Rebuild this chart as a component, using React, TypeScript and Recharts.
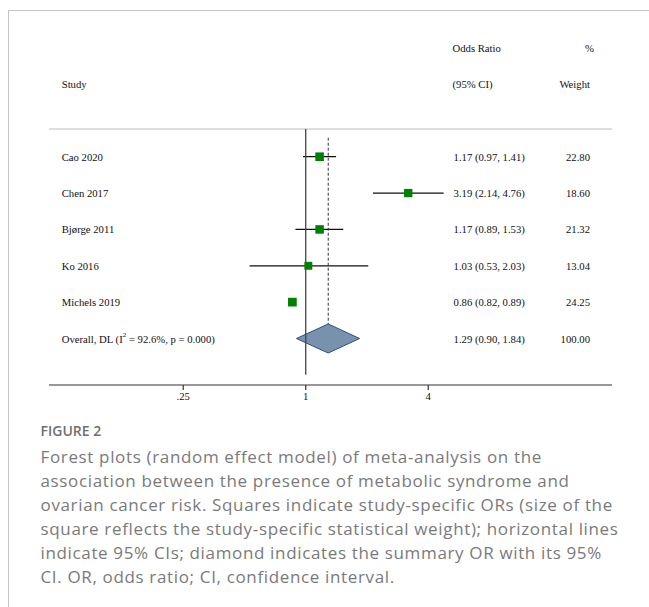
import React from 'react';
import {
  ComposedChart,
  Scatter,
  Area,
  XAxis,
  YAxis,
  ReferenceLine,
} from 'recharts';

// study rows (row index = vertical position, 1 = top study)
const studies = ['Cao 2020', 'Chen 2017', 'Bjørge 2011', 'Ko 2016', 'Michels 2019'];
const oddsRatio = [1.17, 3.19, 1.17, 1.03, 0.86];
const ciLow = [0.97, 2.14, 0.89, 0.53, 0.82];
const ciHigh = [1.41, 4.76, 1.53, 2.03, 0.89];
const weights = [22.8, 18.6, 21.32, 13.04, 24.25];

const overallLabel = 'Overall, DL';
const overallOR = 1.29;
const overallLow = 0.9;
const overallHigh = 1.84;
const overallWeight = 100.0;
const overallStats = 'p = 0.000';
const i2 = '92.6%';

const xTicks = [0.25, 1, 4];

const captionTitle = 'FIGURE 2';
const captionLines = [
  'Forest plots (random effect model) of meta-analysis on the',
  'association between the presence of metabolic syndrome and',
  'ovarian cancer risk. Squares indicate study-specific ORs (size of the',
  'square reflects the study-specific statistical weight); horizontal lines',
  'indicate 95% CIs; diamond indicates the summary OR with its 95%',
  'CI. OR, odds ratio; CI, confidence interval.',
];

// layout
const PLOT_LEFT = 49;
const PLOT_RIGHT = 612;
const PLOT_TOP = 129;
const PLOT_BOTTOM = 385;
const ROW_H = 36.36;
const Y_MIN = 1 - (156.7 - PLOT_TOP) / ROW_H;
const Y_MAX = Y_MIN + (PLOT_BOTTOM - PLOT_TOP) / ROW_H;
const X_MIN = Math.pow(2, (PLOT_LEFT - 305.7) / 61.25);
const X_MAX = 32;
const OVERALL_ROW = studies.length + 1;
const DIAMOND_HALF = 0.4;

const rowY = (row: number) => PLOT_TOP + (row - Y_MIN) * ROW_H;

const SERIF = '"Liberation Serif", "Times New Roman", serif';
const CAPTION_FONT = '"Open Sans", "Noto Sans", sans-serif';

const squareData = studies.map((s, i) => ({ x: oddsRatio[i], y: i + 1, w: weights[i] }));
const diamondData = [
  { x: overallLow, y: [OVERALL_ROW, OVERALL_ROW] },
  { x: overallOR, y: [OVERALL_ROW - DIAMOND_HALF, OVERALL_ROW + DIAMOND_HALF] },
  { x: overallHigh, y: [OVERALL_ROW, OVERALL_ROW] },
];

const fmtTick = (v: number) => (v < 1 ? String(v).replace(/^0/, '') : String(v));

function Square(props: any) {
  const { cx, cy, payload } = props;
  const side = 7 + payload.w * 0.07;
  return <rect x={cx - side / 2} y={cy - side / 2} width={side} height={side} fill="#008000" />;
}

function TextColumns() {
  const t = { fontFamily: SERIF, fontSize: 10.7, fill: '#111' } as const;
  return (
    <svg width={649} height={420} style={{ position: 'absolute', left: 0, top: 0, pointerEvents: 'none' }}>
      <text x={452.5} y={rowY(-2)} dominantBaseline="central" {...t}>Odds Ratio</text>
      <text x={594} y={rowY(-2)} dominantBaseline="central" textAnchor="end" {...t}>%</text>
      <text x={61.7} y={rowY(-1)} dominantBaseline="central" {...t}>Study</text>
      <text x={452.5} y={rowY(-1)} dominantBaseline="central" {...t}>(95% CI)</text>
      <text x={590} y={rowY(-1)} dominantBaseline="central" textAnchor="end" {...t}>Weight</text>
      {studies.map((s, i) => (
        <g key={s}>
          <text x={61.7} y={rowY(i + 1)} dominantBaseline="central" {...t}>{s}</text>
          <text x={453.6} y={rowY(i + 1)} dominantBaseline="central" {...t}>
            {`${oddsRatio[i].toFixed(2)} (${ciLow[i].toFixed(2)}, ${ciHigh[i].toFixed(2)})`}
          </text>
          <text x={590} y={rowY(i + 1)} dominantBaseline="central" textAnchor="end" {...t}>
            {weights[i].toFixed(2)}
          </text>
        </g>
      ))}
      <text x={61.7} y={rowY(OVERALL_ROW)} dominantBaseline="central" {...t}>
        {`${overallLabel} (I`}
        <tspan fontSize={7} dy={-4}>2</tspan>
        <tspan dy={4}>{` = ${i2}, ${overallStats})`}</tspan>
      </text>
      <text x={453.6} y={rowY(OVERALL_ROW)} dominantBaseline="central" {...t}>
        {`${overallOR.toFixed(2)} (${overallLow.toFixed(2)}, ${overallHigh.toFixed(2)})`}
      </text>
      <text x={590} y={rowY(OVERALL_ROW)} dominantBaseline="central" textAnchor="end" {...t}>
        {overallWeight.toFixed(2)}
      </text>
    </svg>
  );
}

export default function App() {
  return (
    <div style={{ position: 'absolute', left: 0, top: 0, width: 649, height: 607, background: '#fff', overflow: 'hidden' }}>
      {/* frame */}
      <div
        style={{
          position: 'absolute',
          left: 8,
          top: 10,
          width: 700,
          height: 700,
          borderTop: '1px solid #c4c4c4',
          borderLeft: '1px solid #c4c4c4',
        }}
      />
      <div style={{ position: 'absolute', left: 0, top: 0 }}>
        <ComposedChart
          width={PLOT_RIGHT + 20}
          height={PLOT_BOTTOM + 35}
          margin={{ top: PLOT_TOP, left: PLOT_LEFT, right: 20, bottom: 5 }}
        >
          <XAxis
            type="number"
            dataKey="x"
            scale="log"
            domain={[X_MIN, X_MAX]}
            allowDataOverflow
            ticks={xTicks}
            tickFormatter={fmtTick}
            height={30}
            tickSize={5}
            stroke="#333"
            strokeWidth={1.2}
            tick={{ fontFamily: SERIF, fontSize: 10.7, fill: '#111' }}
            interval={0}
          />
          <YAxis type="number" dataKey="y" domain={[Y_MIN, Y_MAX]} reversed hide allowDataOverflow />
          <ReferenceLine y={Y_MIN} stroke="#bdbdbd" strokeWidth={1} />
          {studies.map((s, i) => (
            <ReferenceLine
              key={s}
              segment={[
                { x: ciLow[i], y: i + 1 },
                { x: ciHigh[i], y: i + 1 },
              ]}
              stroke="#111"
              strokeWidth={1.3}
            />
          ))}
          <ReferenceLine
            segment={[
              { x: overallOR, y: Y_MIN + 0.24 },
              { x: overallOR, y: OVERALL_ROW - DIAMOND_HALF },
            ]}
            stroke="#333"
            strokeWidth={1}
            strokeDasharray="3 2"
          />
          <Area
            data={diamondData}
            dataKey="y"
            type="linear"
            fill="#7892ad"
            fillOpacity={1}
            stroke="#2b527a"
            strokeWidth={1}
            isAnimationActive={false}
            dot={false}
            activeDot={false}
          />
          <ReferenceLine
            segment={[
              { x: 1, y: Y_MIN },
              { x: 1, y: 7 },
            ]}
            stroke="#444"
            strokeWidth={1.3}
          />
          <Scatter data={squareData} shape={<Square />} isAnimationActive={false} />
        </ComposedChart>
      </div>
      <TextColumns />
      {/* caption */}
      <div
        style={{
          position: 'absolute',
          left: 40.5,
          top: 422,
          fontFamily: CAPTION_FONT,
          fontSize: 14,
          lineHeight: '18px',
          fontWeight: 600,
          color: '#6f6f6f',
        }}
      >
        {captionTitle}
      </div>
      <div
        style={{
          position: 'absolute',
          left: 40.5,
          top: 445,
          fontFamily: CAPTION_FONT,
          fontSize: 17,
          letterSpacing: 0.65,
          lineHeight: '24px',
          color: '#7a7a7a',
          whiteSpace: 'nowrap',
        }}
      >
        {captionLines.map((l) => (
          <div key={l}>{l}</div>
        ))}
      </div>
    </div>
  );
}
